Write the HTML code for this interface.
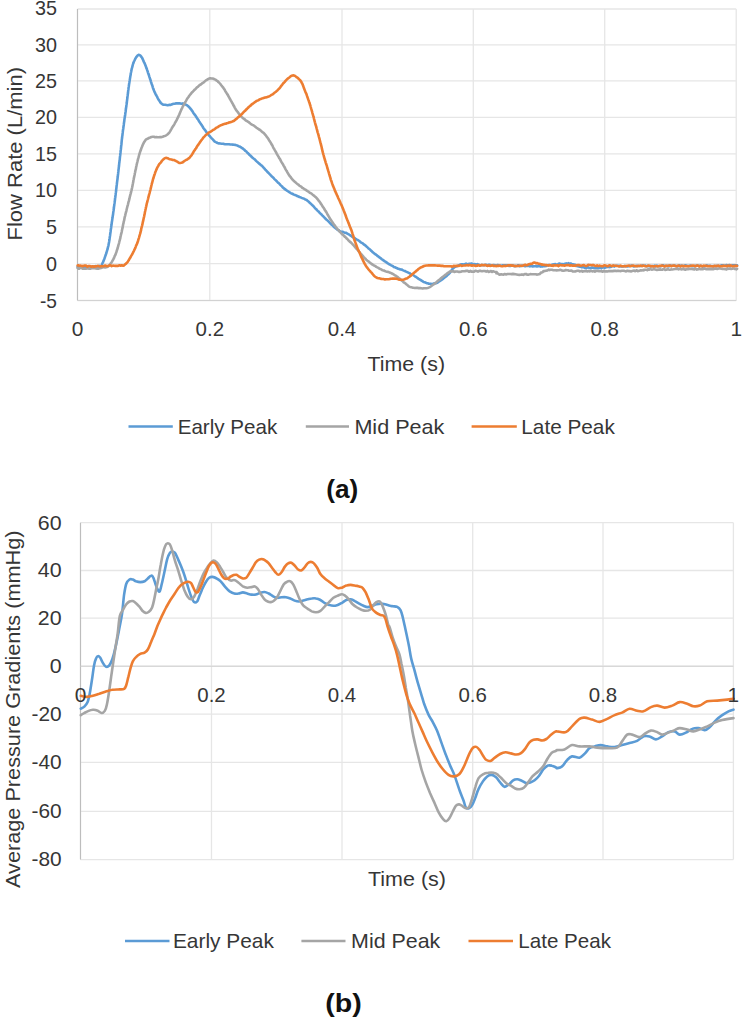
<!DOCTYPE html>
<html><head><meta charset="utf-8"><title>Charts</title>
<style>html,body{margin:0;padding:0;background:#fff}body{width:743px;height:1020px;overflow:hidden;font-family:"Liberation Sans",sans-serif}</style>
</head><body>
<svg width="743" height="1020" viewBox="0 0 743 1020" style="display:block;font-family:'Liberation Sans',sans-serif">
<rect width="743" height="1020" fill="#fff"/>
<g stroke="#e6e6e6" stroke-width="1.3" fill="none">
<line x1="77.5" y1="9.0" x2="736.2" y2="9.0"/>
<line x1="77.5" y1="44.8" x2="736.2" y2="44.8"/>
<line x1="77.5" y1="80.9" x2="736.2" y2="80.9"/>
<line x1="77.5" y1="117.3" x2="736.2" y2="117.3"/>
<line x1="77.5" y1="153.8" x2="736.2" y2="153.8"/>
<line x1="77.5" y1="190.4" x2="736.2" y2="190.4"/>
<line x1="77.5" y1="226.9" x2="736.2" y2="226.9"/>
<line x1="77.5" y1="263.6" x2="736.2" y2="263.6"/>
<line x1="77.5" y1="300.5" x2="736.2" y2="300.5"/>
<line x1="77.5" y1="9.0" x2="77.5" y2="300.5"/>
<line x1="209.8" y1="9.0" x2="209.8" y2="300.5"/>
<line x1="342.0" y1="9.0" x2="342.0" y2="300.5"/>
<line x1="473.3" y1="9.0" x2="473.3" y2="300.5"/>
<line x1="604.7" y1="9.0" x2="604.7" y2="300.5"/>
<line x1="736.2" y1="9.0" x2="736.2" y2="300.5"/>
</g>
<g stroke-width="1.1" fill="none"><line stroke="#bdbdbd" x1="77.5" y1="9.0" x2="77.5" y2="300.5"/><line stroke="#d2d2d2" x1="77.5" y1="300.5" x2="736.2" y2="300.5"/></g>
<g stroke="#e6e6e6" stroke-width="1.3" fill="none">
<line x1="80.5" y1="522.7" x2="733.4" y2="522.7"/>
<line x1="80.5" y1="570.5" x2="733.4" y2="570.5"/>
<line x1="80.5" y1="618.1" x2="733.4" y2="618.1"/>
<line x1="80.5" y1="666.2" x2="733.4" y2="666.2"/>
<line x1="80.5" y1="714.2" x2="733.4" y2="714.2"/>
<line x1="80.5" y1="762.4" x2="733.4" y2="762.4"/>
<line x1="80.5" y1="811.3" x2="733.4" y2="811.3"/>
<line x1="80.5" y1="859.6" x2="733.4" y2="859.6"/>
<line x1="80.5" y1="522.7" x2="80.5" y2="859.6"/>
<line x1="211.5" y1="522.7" x2="211.5" y2="859.6"/>
<line x1="342.0" y1="522.7" x2="342.0" y2="859.6"/>
<line x1="472.7" y1="522.7" x2="472.7" y2="859.6"/>
<line x1="603.0" y1="522.7" x2="603.0" y2="859.6"/>
<line x1="733.4" y1="522.7" x2="733.4" y2="859.6"/>
</g>
<g stroke-width="1.1" fill="none"><line stroke="#bdbdbd" x1="80.5" y1="522.7" x2="80.5" y2="859.6"/><line stroke="#d2d2d2" x1="80.5" y1="666.2" x2="733.4" y2="666.2"/></g>
<g fill="none" stroke-width="2.6" stroke-linejoin="round" stroke-linecap="round">
<path stroke="#5b9bd5" d="M77.6 266.8L78.4 266.4L79.3 267.2L80.5 267.1L81.8 266.5L83.2 266.8L84.7 266.8L86.2 267.0L87.6 267.1L88.9 266.4L90.1 266.3L91.5 267.1L93.0 266.6L94.4 266.9L95.7 266.0L97.0 266.4L98.2 266.6L99.3 265.9L100.1 266.5L101.5 265.6L102.0 264.5L102.6 262.9L103.0 262.2L103.4 261.4L103.8 260.2L104.3 259.0L104.7 257.8L105.2 256.4L105.6 255.3L106.0 254.1L106.4 253.0L106.7 251.8L107.0 250.8L107.3 249.9L107.6 249.0L107.8 247.9L108.1 246.7L108.4 245.8L108.6 244.5L108.9 243.0L109.1 241.9L109.2 241.2L109.4 240.1L109.6 238.7L109.7 237.7L109.9 236.6L110.1 235.4L110.2 234.2L110.4 232.8L110.6 231.7L110.7 230.4L110.9 229.0L111.1 227.9L111.2 226.8L111.4 225.6L111.6 224.3L111.7 223.2L111.9 221.8L112.1 220.8L112.2 219.8L112.4 218.6L112.6 217.3L112.7 216.3L112.9 215.2L113.1 214.0L113.2 212.8L113.4 211.6L113.6 210.4L113.7 209.3L113.9 208.0L114.0 206.8L114.2 205.8L114.3 204.6L114.5 203.5L114.6 202.7L114.7 201.7L114.9 200.5L115.0 199.4L115.1 198.2L115.3 197.2L115.4 196.2L115.6 194.9L115.7 193.6L115.9 192.4L116.1 190.8L116.2 189.4L116.4 188.1L116.5 187.0L116.6 185.9L116.8 184.7L116.9 183.7L117.0 182.7L117.2 181.2L117.3 180.3L117.5 179.1L117.6 177.8L117.8 176.5L117.9 175.3L118.1 173.9L118.2 172.6L118.4 171.2L118.5 169.8L118.7 168.8L118.8 167.4L119.0 166.0L119.1 164.8L119.2 163.6L119.4 162.3L119.5 161.1L119.7 160.0L119.8 158.8L119.9 157.7L120.0 156.6L120.2 155.4L120.3 154.1L120.5 152.7L120.6 151.5L120.7 150.4L120.9 149.2L121.0 148.0L121.1 146.9L121.2 145.6L121.4 144.7L121.5 143.5L121.6 142.2L121.7 141.1L121.8 140.0L121.9 139.2L122.1 137.8L122.2 136.6L122.4 135.6L122.5 134.3L122.7 132.9L122.8 131.8L122.9 130.8L123.1 129.5L123.3 128.4L123.4 127.3L123.6 126.0L123.8 124.7L123.9 123.5L124.1 122.1L124.3 121.0L124.4 119.7L124.6 118.4L124.8 117.1L125.0 116.1L125.2 114.7L125.3 113.4L125.5 112.3L125.7 111.2L125.8 109.7L126.0 108.6L126.1 107.5L126.3 106.6L126.4 105.4L126.6 104.2L126.8 102.8L126.9 101.5L127.1 100.1L127.2 99.1L127.4 97.8L127.5 96.5L127.7 95.2L127.8 94.2L128.0 93.0L128.1 91.9L128.2 90.7L128.4 89.7L128.5 88.5L128.6 87.5L128.8 86.7L128.9 85.6L129.1 84.1L129.3 83.0L129.5 81.5L129.7 80.4L129.9 79.1L130.1 77.8L130.3 76.6L130.5 75.4L130.7 74.6L130.8 73.2L131.0 72.5L131.2 71.6L131.4 70.5L131.7 68.9L132.0 67.9L132.3 66.8L132.6 65.6L132.9 64.5L133.2 63.5L133.6 62.6L133.9 61.6L134.5 60.5L135.1 59.2L135.8 57.9L136.5 56.8L137.1 56.1L137.7 55.4L139.0 54.8L140.2 55.4L140.8 56.1L141.4 56.9L142.0 57.6L142.7 59.1L143.1 60.0L143.5 61.1L144.0 62.1L144.5 63.0L145.0 64.2L145.5 65.5L146.0 66.8L146.4 68.1L146.8 68.9L147.2 70.2L147.6 71.2L147.9 72.3L148.3 73.6L148.7 74.5L149.1 75.8L149.4 76.8L149.8 78.0L150.2 79.4L150.6 80.3L150.9 81.6L151.3 82.7L151.7 84.0L152.1 85.0L152.5 86.2L152.8 87.3L153.2 88.6L153.6 89.5L154.0 90.6L154.5 91.9L155.0 92.8L155.6 94.1L156.1 95.0L156.6 95.9L157.2 96.9L157.7 98.1L158.3 99.2L159.0 100.2L159.6 101.1L160.2 102.1L160.8 102.9L161.5 103.5L162.7 104.4L163.9 104.7L165.2 104.8L166.4 105.0L167.6 105.2L168.9 104.9L170.2 104.9L171.5 104.5L172.7 104.0L174.0 103.8L175.2 103.6L176.5 103.2L177.7 103.4L179.0 103.3L180.2 103.4L181.5 103.7L182.7 103.4L184.0 103.7L185.2 104.4L186.2 104.8L187.2 105.4L188.2 106.3L189.3 107.3L190.3 108.6L191.0 109.2L191.7 110.4L192.4 111.2L193.1 112.5L193.8 113.5L194.5 114.4L195.3 115.4L195.9 116.4L196.5 117.2L197.1 118.3L197.8 119.1L198.4 120.0L199.0 121.3L199.6 122.0L200.3 123.1L200.9 124.0L201.5 124.9L202.1 125.7L202.8 127.0L203.4 128.0L204.0 128.9L204.6 129.5L205.3 130.4L206.0 131.5L206.7 132.6L207.4 133.4L208.1 134.3L208.8 135.2L209.6 135.9L210.3 136.8L211.1 137.7L211.9 138.6L212.8 139.4L213.6 140.3L214.5 141.3L215.3 141.8L216.5 142.5L217.6 143.0L218.9 143.4L220.3 143.5L221.4 143.7L222.6 143.8L223.9 143.9L225.2 144.2L226.5 144.3L227.8 144.2L229.1 144.3L230.3 144.5L231.6 144.5L232.8 144.6L234.1 144.7L235.3 144.9L236.4 145.3L237.5 145.6L238.5 146.2L239.6 146.5L240.7 147.1L241.7 147.9L242.8 148.5L243.7 149.3L244.5 149.9L245.3 150.8L246.2 151.3L247.0 152.3L247.8 153.2L248.7 153.8L249.5 154.9L250.3 155.5L251.3 156.5L252.3 157.5L253.2 158.3L254.2 159.0L255.2 159.8L256.1 160.8L257.0 161.7L257.8 162.3L258.9 163.4L259.9 164.1L260.9 165.2L261.8 165.7L262.7 166.6L263.6 167.7L264.5 168.6L265.3 169.6L266.2 170.5L267.0 171.4L267.8 172.3L268.6 173.0L269.4 173.9L270.3 174.7L271.1 175.7L271.9 176.5L272.8 177.2L273.6 177.9L274.4 179.1L275.3 179.9L276.1 180.6L277.0 181.5L277.8 182.4L278.6 183.1L279.5 183.9L280.3 184.8L281.1 185.6L282.0 186.4L282.8 187.4L283.6 188.1L284.6 189.0L285.5 189.5L286.5 190.4L287.5 191.0L288.6 191.7L289.6 192.3L290.6 193.1L291.7 193.5L292.8 194.0L293.9 194.6L295.0 195.0L296.1 195.4L297.2 196.1L298.4 196.5L299.5 197.0L300.6 197.4L301.7 197.9L302.7 198.3L303.7 198.5L304.8 199.2L305.7 199.6L306.6 200.0L307.5 200.8L308.7 201.7L309.4 202.5L310.2 203.2L311.0 203.8L311.8 204.8L312.7 205.5L313.6 206.4L314.5 207.5L315.3 208.5L316.2 209.1L317.0 210.1L317.8 211.0L318.7 211.6L319.5 212.6L320.3 213.5L321.2 214.2L322.0 215.1L322.8 216.0L323.7 216.7L324.5 217.7L325.3 218.5L326.2 219.4L327.0 220.1L327.9 220.9L328.7 221.7L329.5 222.5L330.4 223.5L331.2 224.3L332.1 224.9L333.1 226.0L334.0 226.9L334.9 227.6L335.9 228.5L336.8 229.1L337.8 230.0L338.7 230.3L339.8 231.2L340.8 231.5L341.9 231.8L343.0 231.9L344.1 232.4L345.1 232.7L346.2 232.9L347.3 233.6L348.3 234.2L349.3 234.7L350.3 235.4L351.4 236.0L352.5 236.9L353.7 237.7L354.6 238.0L355.6 238.8L356.5 239.3L357.5 239.8L358.6 240.5L359.6 241.2L360.7 242.2L361.7 242.9L362.7 243.3L363.7 244.3L364.6 244.9L365.6 245.6L366.5 246.5L367.4 247.2L368.3 248.3L369.2 248.8L370.1 249.7L371.0 250.6L371.9 251.3L372.8 252.3L373.7 253.0L374.7 253.9L375.8 254.5L376.8 255.3L377.8 256.2L378.8 256.8L379.8 257.7L380.8 258.3L381.8 259.2L382.8 259.9L383.8 260.6L384.8 261.4L385.8 261.9L386.8 262.6L387.8 263.4L388.8 264.0L389.8 264.5L390.8 265.1L391.8 265.6L392.8 266.1L393.8 266.9L394.9 267.2L396.0 267.8L397.1 268.2L398.2 268.7L399.3 269.0L400.5 269.5L401.6 269.5L402.7 270.1L403.8 270.6L404.9 271.0L406.1 271.6L407.2 272.1L408.4 272.7L409.5 273.1L410.6 273.8L411.7 274.4L412.8 274.9L413.8 275.5L414.9 276.3L415.9 276.9L416.8 277.5L417.7 278.2L418.6 278.8L419.5 279.3L420.4 279.8L421.3 280.5L422.4 281.1L423.5 281.8L424.5 282.3L425.6 282.6L426.7 283.2L427.7 283.3L428.8 283.7L430.1 283.7L431.3 283.9L432.6 284.0L433.8 283.6L435.1 283.3L436.3 283.1L437.3 282.7L438.3 282.1L439.2 281.3L440.2 280.8L441.2 280.1L442.1 279.4L443.0 278.8L443.8 278.1L444.9 277.3L446.0 276.5L446.9 275.7L447.9 274.7L448.8 274.0L449.6 273.1L450.4 272.2L451.0 271.2L451.6 270.2L452.3 269.3L452.9 268.5L453.6 267.9L454.6 267.1L455.6 266.6L456.6 266.2L457.6 265.9L458.6 265.4L459.8 264.8L460.9 264.4L462.6 264.4L463.6 264.5L464.7 264.1L466.0 263.6L467.4 264.3L468.7 263.9L470.1 263.9L471.4 263.5L472.6 264.0L473.7 264.3L474.7 264.1L475.5 264.2L476.4 264.7L477.5 264.1L478.8 264.8L480.6 265.4L481.4 265.1L482.3 264.9L483.3 265.2L484.3 265.2L485.3 264.8L486.4 264.8L487.5 265.6L488.6 264.9L489.8 264.7L491.1 265.6L492.3 265.3L493.6 265.1L495.0 265.3L496.3 265.6L497.7 265.0L499.1 265.5L500.6 265.6L501.6 265.8L502.7 265.2L503.9 265.6L505.1 265.2L506.3 265.6L507.5 265.2L508.8 265.9L510.2 266.0L511.5 265.4L512.8 265.3L514.2 266.1L515.5 265.9L516.9 266.0L518.2 265.2L519.6 266.1L520.9 265.9L522.1 265.5L523.4 265.7L524.6 266.1L525.7 266.1L526.8 265.5L527.9 266.0L528.8 265.5L529.8 266.4L530.6 265.8L532.7 266.4L534.3 266.3L535.4 266.3L536.2 266.1L537.0 266.5L537.9 266.1L539.0 266.1L540.6 266.6L541.5 266.2L542.6 266.5L543.7 265.8L544.8 266.2L546.1 266.0L547.3 265.4L548.6 265.0L549.9 265.2L551.3 265.1L552.6 264.5L553.9 264.4L555.1 264.1L556.4 264.5L557.5 264.7L558.6 263.8L559.7 263.5L560.6 264.1L562.3 264.1L563.8 264.2L565.1 263.7L566.2 263.4L567.3 263.9L568.3 263.2L569.4 264.0L570.6 263.5L571.7 264.0L572.8 264.4L573.9 264.6L575.0 264.8L576.2 265.3L577.3 266.3L578.4 266.3L579.5 266.7L580.6 266.6L581.8 267.3L583.0 267.1L584.2 267.5L585.4 267.9L586.6 268.1L587.8 267.1L589.2 268.0L590.6 268.1L591.6 267.5L592.8 267.6L594.0 267.9L595.2 268.3L596.5 267.7L597.7 268.2L599.0 268.1L600.2 267.4L601.4 268.3L602.6 267.3L603.6 267.4L604.6 267.9L605.9 267.1L606.7 267.3L607.4 266.8L608.1 266.9L609.0 267.1L610.5 267.0L612.6 265.9L613.4 265.9L614.2 266.7L615.0 265.8L615.9 266.0L616.8 265.8L617.7 265.8L618.6 265.7L619.6 266.3L620.6 266.4L621.7 266.3L622.8 266.5L623.9 266.2L625.1 265.9L626.4 266.2L627.7 266.5L629.1 266.1L630.5 265.7L632.0 265.5L633.6 266.4L635.2 266.0L636.9 265.8L638.7 266.0L640.6 266.0L641.5 265.9L642.4 265.4L643.4 265.7L644.4 265.8L645.4 265.6L646.5 266.3L647.5 265.8L648.6 266.1L649.8 266.1L650.9 266.1L652.1 266.1L653.3 266.2L654.5 265.6L655.7 266.4L657.0 265.5L658.3 266.3L659.5 266.3L660.8 266.3L662.1 265.4L663.4 265.4L664.7 266.2L666.1 265.9L667.4 265.8L668.7 266.4L670.1 265.4L671.4 265.9L672.7 265.8L674.1 265.5L675.4 265.8L676.8 266.1L678.1 266.3L679.4 265.4L680.7 265.9L682.0 265.5L683.3 266.3L684.6 265.5L685.9 265.4L687.1 265.8L688.4 266.2L689.6 265.7L690.8 265.5L692.0 266.2L693.1 266.3L694.3 266.3L695.4 265.7L696.5 265.8L697.6 265.6L698.6 266.0L699.6 265.7L700.6 265.7L702.2 266.2L703.8 266.4L705.4 266.0L706.9 265.4L708.5 266.0L710.0 265.8L711.5 266.3L713.0 266.0L714.4 266.1L715.9 266.0L717.3 265.8L718.6 266.1L720.0 266.1L721.3 265.4L722.6 265.3L723.9 265.5L725.1 265.6L726.3 265.1L727.4 265.4L728.5 265.6L729.6 265.0L730.6 265.9L731.6 265.7L732.5 265.3L733.4 265.2L734.2 265.3L735.0 265.2L735.8 265.7L736.5 265.4L737.1 265.4"/>
<path stroke="#a5a5a5" d="M77.6 268.0L78.3 268.6L79.2 268.6L80.3 267.8L81.5 267.9L82.9 268.8L84.3 268.8L85.9 268.7L87.6 268.3L88.6 268.6L89.7 268.6L90.8 268.6L92.1 268.1L93.4 268.3L94.7 268.2L96.0 268.5L97.4 268.8L98.7 268.7L99.9 268.1L101.2 267.9L102.3 267.6L103.4 267.3L104.3 267.1L105.1 267.5L107.0 267.0L108.1 266.5L108.8 266.0L109.4 265.2L110.1 264.3L110.8 263.4L111.5 262.4L112.1 261.5L112.7 260.4L113.3 259.3L113.9 258.2L114.3 257.2L114.7 256.0L115.2 255.3L115.6 254.2L116.0 253.1L116.4 252.0L116.8 250.7L117.2 249.5L117.7 248.0L117.9 247.2L118.2 246.2L118.5 244.8L118.8 243.9L119.1 242.8L119.4 241.5L119.7 240.4L120.0 239.2L120.3 238.1L120.5 236.7L120.8 235.6L121.1 234.2L121.4 233.1L121.7 232.0L121.9 230.8L122.1 229.8L122.3 228.8L122.6 227.7L122.8 226.5L123.0 225.3L123.2 224.2L123.5 223.2L123.7 221.8L124.0 220.9L124.3 219.4L124.5 218.3L124.8 216.8L125.2 215.6L125.4 214.5L125.7 213.3L126.0 212.2L126.3 211.1L126.6 209.8L126.9 208.5L127.2 207.2L127.5 206.0L127.9 204.8L128.2 203.4L128.5 201.9L128.9 200.9L129.2 199.6L129.5 198.4L129.8 196.9L130.1 195.9L130.4 194.5L130.7 193.6L131.0 192.4L131.2 191.4L131.4 190.8L131.8 188.9L132.1 187.7L132.3 186.6L132.6 185.3L132.7 184.3L132.9 183.6L133.1 182.5L133.3 181.6L133.4 180.3L133.7 179.3L133.9 178.0L134.1 177.1L134.4 175.8L134.6 175.0L134.8 173.5L135.1 172.5L135.3 171.0L135.6 169.9L135.9 168.8L136.1 167.3L136.4 166.1L136.6 165.1L136.9 163.8L137.2 162.5L137.4 161.8L137.7 160.4L138.0 159.1L138.4 157.9L138.7 156.7L139.0 155.5L139.4 154.1L139.7 153.1L140.1 151.9L140.4 151.0L140.8 150.1L141.1 149.1L141.4 148.2L142.0 146.8L142.5 145.5L143.0 144.3L143.6 143.1L144.1 142.1L144.7 141.4L145.2 140.5L146.1 139.4L147.1 138.9L148.0 138.6L148.9 137.9L150.2 137.5L151.4 137.0L152.7 136.8L153.9 136.7L155.1 137.2L156.4 137.1L157.7 137.3L159.0 137.3L160.2 137.1L161.5 137.1L162.7 136.7L163.7 136.3L164.7 136.0L165.7 135.6L166.7 135.0L167.7 134.3L168.3 133.6L169.0 133.0L169.6 132.1L170.2 131.1L170.9 129.8L171.5 128.8L172.1 127.7L172.7 126.8L173.4 125.8L174.0 124.8L174.6 123.8L175.2 122.5L175.9 121.5L176.5 120.4L177.1 119.1L177.7 117.9L178.2 116.9L178.7 115.7L179.2 114.8L179.7 113.5L180.2 112.2L180.7 111.1L181.2 109.9L181.7 108.8L182.2 107.8L182.7 106.7L183.4 105.5L184.0 104.4L184.6 103.1L185.2 102.2L185.9 101.1L186.5 100.0L187.1 98.9L187.7 98.0L188.5 97.0L189.2 95.8L189.9 95.0L190.6 94.2L191.3 93.2L192.0 92.4L192.8 91.8L193.6 90.8L194.4 89.9L195.3 89.2L196.1 88.3L196.9 87.4L197.8 86.9L198.8 85.8L199.8 85.0L200.8 84.5L201.8 83.6L202.8 82.9L203.8 82.3L204.8 81.4L205.9 80.3L206.9 79.8L207.8 79.2L209.1 78.6L210.2 78.3L211.5 78.5L212.7 78.5L214.0 79.0L215.3 79.6L216.5 80.6L217.4 80.9L218.2 81.9L219.0 82.5L219.9 83.5L220.7 84.4L221.5 85.5L222.2 86.4L222.8 87.1L223.4 87.9L224.0 88.9L224.7 89.8L225.3 91.1L225.9 92.0L226.6 93.1L227.2 94.1L227.8 94.9L228.4 96.2L229.1 97.4L229.7 98.5L230.3 99.5L230.9 100.6L231.6 101.7L232.2 103.0L232.8 103.9L233.4 105.2L234.1 106.3L234.7 107.6L235.3 108.6L235.9 109.7L236.6 110.6L237.3 111.5L238.0 112.4L238.6 113.4L239.3 114.2L240.0 115.1L240.8 116.0L241.6 116.9L242.4 117.6L243.2 118.4L244.1 118.9L245.0 119.6L245.9 120.6L246.9 120.9L247.8 121.7L248.7 122.2L249.6 122.8L250.5 123.7L251.5 124.4L252.4 124.9L253.4 125.3L254.4 126.0L255.3 126.7L256.2 127.5L257.2 128.2L258.2 128.8L259.1 129.5L260.1 130.0L261.1 130.9L262.0 131.8L262.8 132.4L263.6 132.9L264.5 133.9L265.3 134.8L266.0 135.5L266.6 136.6L267.3 137.3L267.9 138.3L268.6 139.3L269.2 140.5L269.9 141.4L270.5 142.4L271.1 143.4L271.7 144.6L272.4 145.6L273.0 147.0L273.6 148.2L274.2 149.0L274.9 150.3L275.5 151.3L276.1 152.4L276.7 153.6L277.4 154.8L278.0 155.8L278.6 156.8L279.2 158.1L279.9 158.9L280.5 160.2L281.1 161.3L281.7 162.4L282.4 163.5L283.0 164.4L283.6 165.6L284.3 166.7L284.9 167.9L285.5 169.1L286.1 170.2L286.8 171.1L287.4 172.3L288.0 173.4L288.6 174.5L289.3 175.4L290.0 176.4L290.6 177.0L291.3 178.2L292.0 179.0L292.8 179.8L293.6 180.7L294.5 181.5L295.3 182.1L296.3 183.1L297.2 183.9L298.2 184.5L299.2 185.5L300.2 186.2L301.2 186.7L302.1 187.7L303.0 188.1L304.0 188.8L304.9 189.4L305.8 189.9L306.8 190.6L307.7 191.2L308.7 191.8L309.6 192.7L310.5 193.0L311.5 193.6L312.4 194.4L313.4 195.2L314.3 195.9L315.2 196.8L316.2 197.6L316.9 198.4L317.5 199.1L318.2 200.0L318.9 201.0L319.6 201.7L320.3 202.7L320.9 203.9L321.6 204.7L322.3 206.0L323.0 207.0L323.7 207.9L324.3 209.0L324.9 210.0L325.6 211.1L326.2 211.9L326.8 213.0L327.4 214.2L328.1 215.3L328.7 216.3L329.3 217.3L329.9 218.5L330.6 219.7L331.2 220.4L331.9 221.6L332.7 222.6L333.4 223.7L334.2 224.9L334.9 225.7L335.7 226.8L336.4 227.7L337.2 228.7L337.9 229.7L338.7 230.3L339.5 231.5L340.4 232.2L341.2 233.2L342.0 234.1L342.9 234.8L343.7 235.5L344.5 236.5L345.4 237.0L346.2 238.0L347.0 238.8L347.9 239.6L348.7 240.6L349.5 241.4L350.4 242.1L351.2 242.8L352.1 243.7L352.9 244.6L353.7 245.4L354.5 246.3L355.2 247.4L356.0 247.9L356.7 249.1L357.5 249.8L358.2 250.7L359.0 251.6L359.7 252.4L360.5 253.4L361.2 254.1L362.1 255.1L362.9 256.0L363.7 257.1L364.6 258.0L365.4 258.7L366.2 259.6L367.1 260.5L367.9 261.0L368.7 261.6L369.7 262.4L370.6 263.1L371.6 264.0L372.5 264.5L373.4 265.1L374.4 265.8L375.3 266.1L376.3 266.9L377.3 267.4L378.4 267.9L379.5 268.7L380.5 269.0L381.6 269.7L382.7 270.2L383.8 270.5L384.8 271.0L385.9 271.4L387.0 271.7L388.1 271.9L389.1 272.3L390.2 272.7L391.3 273.1L392.2 273.7L393.1 274.0L394.1 274.7L395.0 275.4L396.0 275.9L396.9 276.6L397.8 277.2L398.8 278.2L399.7 278.7L400.7 279.6L401.7 280.6L402.7 281.2L403.7 282.3L404.6 282.8L405.5 283.5L406.3 284.2L407.4 285.1L408.4 286.0L409.2 286.6L410.2 287.0L411.3 287.3L412.4 287.6L413.6 287.7L414.8 288.0L416.1 287.9L417.5 287.9L418.8 288.1L420.0 288.0L421.3 288.2L422.6 288.5L423.9 288.2L425.2 288.2L426.4 288.2L427.6 288.0L428.7 287.6L429.8 287.1L430.8 286.5L431.7 285.8L432.7 285.0L433.8 284.3L434.7 283.6L435.6 282.9L436.5 282.2L437.5 281.2L438.4 280.4L439.4 279.8L440.4 278.8L441.3 278.1L442.2 277.2L443.2 276.5L444.2 275.9L445.2 274.9L446.2 274.3L447.1 273.5L448.0 272.7L448.9 272.4L449.6 271.7L450.8 271.2L451.5 271.4L453.6 271.3L454.4 271.9L455.3 271.6L456.3 271.5L457.3 271.5L458.4 271.9L459.6 271.9L460.9 271.7L462.1 271.3L463.5 271.2L464.9 271.3L466.3 270.8L467.7 270.9L469.1 271.8L470.6 270.9L471.7 271.8L472.8 271.5L474.0 271.8L475.3 270.8L476.6 271.1L477.9 271.6L479.3 270.8L480.7 270.9L482.1 271.2L483.5 271.0L484.8 271.0L486.2 271.6L487.5 270.9L488.7 271.9L489.9 271.6L491.0 271.0L492.1 272.0L493.0 271.3L493.9 271.6L494.6 271.8L496.6 272.0L496.3 273.3L497.6 273.5L498.4 273.8L499.2 274.6L500.2 274.6L501.2 274.3L502.3 274.5L503.5 274.7L504.8 274.0L506.1 274.4L507.4 274.0L508.7 274.0L510.1 274.0L511.5 274.1L512.9 273.9L514.3 274.1L515.6 274.3L516.7 274.5L518.0 274.8L519.2 274.9L520.6 274.7L521.9 274.4L523.3 274.9L524.7 274.1L526.1 274.0L527.5 274.8L528.8 274.6L530.2 274.1L531.5 274.3L532.7 274.2L533.8 274.3L534.9 274.3L535.9 274.2L536.8 274.6L537.6 274.5L539.8 273.9L540.6 273.3L540.9 272.5L541.6 272.5L542.6 272.3L543.5 271.0L544.6 271.1L545.9 270.7L547.6 270.4L548.5 269.6L549.5 270.1L550.6 269.7L551.7 269.7L552.9 270.1L554.2 270.2L555.4 270.2L556.7 270.4L558.0 270.3L559.3 270.1L560.6 269.7L561.7 270.5L562.7 270.6L563.7 270.7L564.7 270.5L565.8 270.0L566.8 270.2L567.9 270.2L569.0 270.8L570.2 270.8L571.4 270.5L572.7 271.4L574.1 271.5L575.6 271.4L576.6 271.0L577.5 270.8L578.5 270.7L579.6 271.4L580.6 271.3L581.7 270.9L582.7 271.6L583.9 271.2L585.0 271.1L586.1 271.1L587.3 271.4L588.5 271.1L589.8 271.4L591.0 270.8L592.3 271.4L593.6 271.0L594.9 271.7L596.3 270.9L597.7 271.0L599.1 271.2L600.6 271.1L601.6 271.2L602.7 271.7L603.8 270.9L605.0 271.5L606.2 271.4L607.4 271.5L608.7 271.1L610.0 271.1L611.3 271.0L612.7 271.1L614.0 270.9L615.4 270.8L616.7 271.1L618.1 270.7L619.5 271.0L620.8 271.1L622.2 270.8L623.5 270.7L624.8 271.1L626.1 271.4L627.4 270.7L628.6 271.1L629.8 271.1L631.0 271.4L632.1 271.1L633.1 270.7L634.2 270.6L635.1 271.2L636.0 270.6L636.8 270.3L637.6 271.2L640.2 270.4L641.8 270.4L642.7 270.2L643.2 270.0L643.6 270.4L644.3 269.8L645.6 269.8L646.5 269.8L647.3 270.2L648.1 269.2L648.9 269.8L649.7 269.3L650.6 269.2L651.6 269.7L652.7 269.4L653.9 269.0L655.3 269.6L656.8 269.9L658.6 269.6L660.6 269.4L661.5 269.7L662.4 269.8L663.3 269.0L664.3 269.1L665.3 269.9L666.4 269.8L667.5 269.0L668.6 269.5L669.8 269.7L671.0 269.4L672.2 269.5L673.5 269.3L674.7 269.0L676.0 268.9L677.3 268.8L678.6 269.4L679.9 268.8L681.2 269.4L682.6 269.1L683.9 269.1L685.3 269.7L686.6 269.1L687.9 269.2L689.3 269.0L690.6 268.9L691.9 268.9L693.2 269.2L694.5 269.5L695.8 268.7L697.0 269.6L698.2 269.3L699.4 268.6L700.6 269.3L701.9 269.0L703.2 269.1L704.6 268.6L705.9 269.1L707.3 269.1L708.7 269.3L710.1 269.1L711.5 269.2L713.0 269.3L714.4 268.7L715.8 268.5L717.2 268.9L718.6 268.5L720.0 268.5L721.4 268.7L722.7 269.0L724.0 269.0L725.3 269.1L726.5 269.4L727.8 268.4L728.9 268.9L730.1 268.4L731.2 269.0L732.2 268.8L733.2 268.4L734.1 268.6L734.9 269.0L735.7 268.8L736.5 269.3L737.1 268.8"/>
<path stroke="#ed7d31" d="M77.6 265.5L78.3 265.3L79.3 265.7L80.4 265.6L81.7 265.9L83.1 266.1L84.5 265.5L86.0 265.6L87.4 266.6L88.8 266.0L90.1 266.0L91.4 266.8L92.6 266.3L93.9 266.7L95.1 266.2L96.4 266.4L97.6 265.8L98.9 266.3L100.1 266.5L101.4 266.1L102.6 266.3L103.9 266.2L105.2 265.5L106.5 266.2L107.8 265.9L109.1 265.6L110.4 265.2L111.7 266.1L112.9 265.6L114.1 265.8L115.2 265.9L116.6 265.7L118.1 265.9L119.4 265.3L120.7 265.8L121.9 265.3L123.0 265.7L123.9 265.4L125.2 264.3L126.1 263.6L126.8 262.8L127.7 261.9L128.3 260.9L128.9 260.0L129.5 258.8L130.2 257.8L130.8 256.6L131.4 255.5L132.0 254.6L132.5 253.6L133.0 252.7L133.6 251.5L134.1 250.5L134.6 249.3L135.2 248.2L135.6 247.1L136.0 245.9L136.4 245.2L136.8 244.2L137.3 243.1L137.7 241.8L138.1 240.7L138.5 239.2L138.9 238.1L139.2 237.0L139.5 235.9L139.8 234.8L140.1 233.9L140.4 232.9L140.7 231.4L141.0 230.5L141.2 229.1L141.5 227.8L141.8 226.6L142.1 225.6L142.4 224.4L142.7 222.8L142.9 221.9L143.2 220.6L143.4 219.7L143.7 218.3L143.9 217.4L144.2 216.2L144.4 214.8L144.7 213.8L144.9 212.3L145.2 211.0L145.4 210.0L145.7 208.7L145.9 207.6L146.2 206.5L146.4 205.5L146.7 204.1L147.0 202.8L147.3 201.9L147.6 200.5L147.9 199.5L148.2 198.3L148.5 196.9L148.8 195.8L149.1 194.7L149.4 193.7L149.7 192.6L149.9 191.6L150.2 190.7L150.5 189.5L150.8 188.1L151.1 186.9L151.3 186.0L151.6 184.8L151.8 183.8L152.1 183.0L152.4 181.8L152.7 180.6L153.0 179.3L153.4 178.3L153.7 177.2L154.1 175.8L154.5 174.8L154.9 173.6L155.3 172.2L155.7 171.3L156.1 170.3L156.5 169.4L157.1 167.9L157.7 166.9L158.3 165.9L158.9 164.7L159.5 163.8L160.2 163.1L161.0 162.3L161.8 161.0L162.6 160.1L163.5 159.3L164.4 158.5L165.2 158.0L166.5 157.9L167.7 158.3L169.0 158.9L170.2 159.3L171.5 159.6L172.7 160.0L174.0 160.0L175.2 160.6L176.2 161.2L177.2 161.7L178.2 162.3L179.2 163.0L180.2 163.0L181.2 162.8L182.2 162.5L183.2 162.0L184.2 161.1L185.2 160.5L186.2 159.9L187.2 159.5L188.2 158.6L189.3 158.0L190.3 156.7L190.9 156.0L191.5 155.3L192.1 154.4L192.8 153.3L193.4 152.2L194.0 151.1L194.6 150.3L195.3 149.2L195.9 148.5L196.5 147.5L197.1 146.3L197.8 145.4L198.4 144.6L199.0 143.6L199.6 142.8L200.3 141.7L201.0 140.7L201.7 139.8L202.4 139.0L203.1 137.9L203.8 137.1L204.6 136.3L205.3 135.5L206.3 134.6L207.3 134.0L208.3 133.0L209.3 132.3L210.3 131.9L211.3 131.2L212.3 130.6L213.3 129.8L214.3 129.3L215.3 128.7L216.2 127.8L217.2 127.4L218.1 126.8L219.1 126.2L220.3 125.5L221.2 125.1L222.3 124.7L223.4 124.3L224.5 123.9L225.7 123.8L226.8 123.3L227.8 123.1L228.9 122.5L230.0 122.4L231.0 122.0L232.0 121.7L233.0 121.2L234.1 120.7L234.9 120.0L235.8 119.2L236.7 118.8L237.5 117.8L238.4 117.1L239.4 116.4L240.3 115.5L241.1 114.8L241.9 114.1L242.7 113.2L243.6 112.2L244.4 111.3L245.3 110.6L246.1 109.6L247.0 108.9L247.8 108.0L248.8 107.0L249.7 106.3L250.6 105.6L251.5 104.5L252.5 104.0L253.4 103.3L254.4 102.5L255.3 101.9L256.4 101.0L257.4 100.6L258.5 100.2L259.6 99.4L260.7 99.0L261.7 98.6L262.7 98.3L263.6 98.0L265.1 97.5L266.3 97.4L267.4 97.0L268.6 96.6L269.6 96.1L270.6 95.5L271.6 94.8L272.6 94.4L273.6 93.6L274.6 92.6L275.6 92.0L276.6 91.1L277.6 90.2L278.6 89.2L279.3 88.5L280.1 87.6L280.8 86.6L281.5 85.6L282.2 84.7L282.9 83.7L283.6 83.0L284.5 82.1L285.3 81.1L286.2 80.1L287.1 79.3L287.9 78.6L288.6 78.0L289.7 77.2L290.6 76.3L291.5 75.9L292.4 75.5L293.6 75.4L294.8 75.8L296.1 76.7L296.9 77.4L297.8 77.9L298.6 78.8L299.5 79.6L300.4 80.5L301.2 81.7L301.7 82.7L302.2 83.5L302.7 84.6L303.1 85.8L303.6 87.1L304.0 88.3L304.4 89.3L304.9 90.6L305.3 91.6L305.7 92.5L306.2 93.6L306.6 94.6L307.0 95.9L307.4 97.0L307.8 98.2L308.2 99.4L308.7 100.6L309.0 101.6L309.3 102.6L309.7 103.6L310.0 104.8L310.4 105.8L310.7 107.0L311.1 108.4L311.4 109.3L311.7 110.5L312.1 111.7L312.4 113.1L312.7 114.0L313.0 115.1L313.4 116.5L313.7 117.4L314.0 118.8L314.3 119.9L314.6 121.1L314.9 122.3L315.2 123.3L315.5 124.6L315.9 125.5L316.2 126.9L316.5 127.9L316.8 129.1L317.1 130.1L317.4 131.4L317.7 132.6L318.0 133.4L318.4 134.7L318.7 135.9L319.0 137.1L319.3 138.1L319.6 139.2L319.9 140.5L320.2 141.7L320.5 142.9L320.8 143.9L321.1 145.1L321.4 146.3L321.7 147.5L321.9 148.7L322.2 149.8L322.5 151.1L322.8 152.4L323.1 153.4L323.4 154.6L323.7 155.4L324.0 156.9L324.4 158.1L324.7 159.2L325.0 160.3L325.4 161.4L325.7 162.6L326.1 163.8L326.4 164.6L326.8 165.7L327.1 167.0L327.4 168.2L327.8 169.2L328.1 170.4L328.5 171.6L328.8 172.6L329.1 173.8L329.5 175.0L329.8 176.3L330.2 177.3L330.5 178.4L330.8 179.6L331.2 180.8L331.6 181.7L332.0 183.0L332.3 183.9L332.7 185.0L333.0 185.9L333.4 186.8L333.9 187.9L334.4 189.1L334.9 190.6L335.3 191.5L335.8 192.4L336.2 193.4L336.7 194.5L337.2 195.7L337.7 196.6L338.2 198.0L338.7 199.0L339.3 200.2L339.8 201.3L340.3 202.5L340.8 203.6L341.3 204.6L341.8 205.7L342.2 206.8L342.7 208.1L343.2 209.1L343.7 210.5L344.2 211.8L344.6 212.8L345.0 213.9L345.5 215.0L345.9 216.3L346.3 217.4L346.7 218.6L347.1 219.6L347.5 220.4L348.0 221.6L348.4 222.8L348.9 223.9L349.3 225.1L349.8 226.2L350.2 227.2L350.6 228.1L351.0 229.4L351.5 230.4L351.8 231.5L352.2 232.7L352.5 233.6L352.9 234.7L353.2 236.1L353.6 237.1L353.9 238.3L354.3 239.5L354.7 240.8L355.1 241.7L355.5 242.9L355.9 244.1L356.4 245.3L356.8 246.4L357.3 247.7L357.8 249.0L358.3 250.0L358.8 251.2L359.3 252.1L359.8 253.3L360.3 254.5L360.7 255.4L361.3 256.9L361.9 258.1L362.4 259.0L363.0 260.5L363.5 261.4L364.1 262.7L364.6 263.7L365.2 264.5L365.7 265.6L366.5 266.7L367.2 267.7L367.9 268.5L368.6 269.5L369.4 270.4L370.1 271.1L370.7 271.8L371.5 272.6L372.3 273.7L373.0 274.5L373.8 275.5L374.5 276.2L375.3 276.8L376.3 277.4L377.4 278.0L378.5 278.3L379.8 278.4L380.9 278.9L382.2 279.0L383.5 279.0L384.9 279.4L386.3 279.2L387.5 279.2L388.7 279.2L390.0 278.9L391.2 278.7L392.5 278.6L393.8 278.5L395.0 278.6L396.3 278.8L397.6 279.1L398.9 279.6L400.1 279.8L401.3 279.8L402.6 279.8L403.9 279.4L405.1 279.0L406.3 278.6L407.5 278.2L408.4 277.3L409.3 276.9L410.2 276.0L411.1 275.5L412.0 274.5L412.9 273.7L413.8 273.0L414.7 272.3L415.6 271.6L416.5 270.7L417.4 270.1L418.3 269.1L419.2 268.5L420.1 267.9L421.1 267.3L422.0 267.0L423.0 266.5L424.0 266.0L425.1 265.7L426.3 265.5L427.4 265.5L428.5 265.4L429.7 265.4L430.9 265.4L432.2 265.2L433.5 265.4L434.9 265.4L436.3 265.5L437.4 265.6L438.6 265.5L439.8 265.6L441.0 265.9L442.3 265.7L443.5 266.1L444.8 266.2L446.1 266.3L447.3 266.2L448.5 266.3L449.6 266.3L450.9 266.3L452.0 266.7L453.1 266.3L454.2 265.8L455.2 266.3L456.4 265.8L457.6 265.9L459.0 265.9L460.6 265.1L461.5 265.9L462.5 265.7L463.6 265.5L464.7 265.5L465.8 265.4L467.0 265.1L468.2 265.5L469.4 264.9L470.7 265.4L471.9 265.6L473.2 265.4L474.4 265.5L475.7 265.9L477.0 265.8L478.2 265.0L479.4 265.7L480.6 265.5L481.8 264.9L483.0 265.3L484.1 265.1L485.3 265.0L486.5 265.5L487.7 265.9L488.8 265.3L490.0 265.9L491.2 265.8L492.4 265.2L493.5 266.0L494.7 265.7L495.9 266.1L497.1 265.9L498.2 265.9L499.4 265.5L500.6 266.0L501.8 266.2L503.0 266.1L504.3 265.7L505.5 266.1L506.8 265.8L508.1 265.4L509.3 265.4L510.6 265.4L511.8 265.6L513.1 265.5L514.3 265.9L515.5 266.1L516.6 266.0L517.7 265.8L518.7 266.0L519.7 265.6L520.6 265.8L522.4 265.9L523.9 265.3L525.3 264.8L526.6 265.4L527.7 264.9L528.7 264.2L529.7 264.0L530.6 263.9L532.1 263.7L533.2 262.9L534.2 262.5L535.3 262.7L536.3 263.4L537.2 263.0L538.3 263.7L539.4 263.8L540.6 264.1L541.4 264.2L542.0 264.7L542.6 264.6L543.4 264.7L544.5 264.9L546.2 265.1L548.6 265.6L549.4 265.1L550.2 265.1L551.1 265.6L552.0 265.5L552.9 265.9L553.9 265.1L555.0 265.5L556.1 265.5L557.2 265.1L558.3 266.1L559.5 265.3L560.7 265.1L562.0 265.5L563.2 265.2L564.5 265.7L565.8 265.3L567.1 265.1L568.5 265.0L569.8 265.7L571.1 265.2L572.5 265.7L573.8 265.4L575.2 265.9L576.6 265.2L577.9 265.1L579.3 265.1L580.6 265.7L581.7 265.5L582.8 265.2L583.9 265.0L584.9 265.6L586.0 266.0L587.1 265.6L588.2 264.9L589.3 265.0L590.4 265.0L591.5 265.2L592.6 265.0L593.7 265.1L594.8 265.7L596.0 266.0L597.1 265.3L598.3 266.1L599.4 265.6L600.6 266.0L601.8 266.1L603.0 266.2L604.2 265.2L605.5 265.5L606.8 265.9L608.0 266.3L609.3 265.3L610.7 265.6L612.0 266.2L613.4 265.4L614.8 265.7L616.2 265.7L617.6 266.1L619.1 266.4L620.6 265.5L621.6 266.2L622.6 266.2L623.7 266.3L624.7 266.0L625.8 266.4L626.9 265.8L628.0 265.8L629.1 265.6L630.2 266.3L631.4 265.9L632.5 265.7L633.7 265.6L634.9 266.2L636.0 266.1L637.2 266.2L638.4 265.8L639.7 266.0L640.9 265.6L642.1 266.2L643.3 265.5L644.6 265.9L645.8 266.3L647.1 266.2L648.3 265.5L649.6 265.7L650.8 266.4L652.1 266.1L653.4 266.4L654.6 266.4L655.9 265.9L657.2 266.4L658.4 266.3L659.7 265.8L661.0 265.9L662.2 265.5L663.5 265.9L664.7 266.5L666.0 265.6L667.3 266.1L668.5 265.6L669.7 265.5L671.0 266.2L672.2 265.7L673.4 265.5L674.7 265.6L675.9 266.2L677.1 266.1L678.2 265.5L679.4 265.7L680.6 266.5L681.9 265.7L683.1 266.1L684.4 265.9L685.7 266.3L687.0 266.1L688.4 266.3L689.7 266.0L691.1 265.7L692.5 265.6L693.9 265.5L695.2 266.3L696.6 265.6L698.0 265.5L699.4 266.5L700.8 265.6L702.3 266.4L703.7 265.5L705.1 265.9L706.4 265.7L707.8 266.3L709.2 266.1L710.6 266.1L711.9 266.2L713.3 266.4L714.6 265.8L715.9 266.1L717.2 265.9L718.5 265.5L719.7 266.3L721.0 266.0L722.2 266.3L723.4 265.6L724.5 266.0L725.7 265.9L726.8 266.2L727.8 265.5L728.9 265.7L729.9 265.9L730.8 265.4L731.8 266.0L732.7 266.2L733.5 265.8L734.3 266.1L735.1 266.0L735.8 265.6L736.5 265.7L737.1 265.9"/>
<path stroke="#5b9bd5" d="M80.8 708.7C81.4 708.4 83.2 707.7 84.3 706.6C85.4 705.5 86.6 704.4 87.5 702.3C88.4 700.1 89.0 697.2 89.7 693.7C90.4 690.1 91.1 685.4 91.8 680.7C92.6 676.1 93.3 669.4 94.0 665.7C94.7 661.9 95.4 659.7 96.2 658.1C96.9 656.5 97.6 656.0 98.3 656.0C99.0 656.0 99.7 657.1 100.5 658.1C101.2 659.2 101.7 661.0 102.6 662.4C103.5 663.9 104.8 666.2 105.8 666.7C106.9 667.3 108.0 666.9 109.1 665.7C110.1 664.4 111.2 662.3 112.3 659.2C113.4 656.2 114.5 652.0 115.5 647.4C116.6 642.7 117.7 636.8 118.8 631.2C119.8 625.6 121.1 620.1 122.0 614.0C122.9 607.9 123.4 599.6 124.1 594.6C124.9 589.6 125.4 586.3 126.3 583.8C127.2 581.3 128.5 580.2 129.5 579.5C130.6 578.8 131.7 579.2 132.8 579.5C133.8 579.8 134.7 580.8 136.0 581.3C137.2 581.7 138.9 582.1 140.3 582.1C141.7 582.1 143.3 581.9 144.6 581.3C145.9 580.6 146.8 579.4 147.8 578.5C148.9 577.5 150.2 575.8 151.1 575.7C152.0 575.5 152.5 576.0 153.2 577.4C153.9 578.7 154.7 581.9 155.4 583.8C156.1 585.8 156.8 588.0 157.5 589.2C158.2 590.5 159.0 592.3 159.7 591.4C160.4 590.5 160.9 587.6 161.8 583.8C162.7 580.1 164.2 572.9 165.1 568.8C166.0 564.6 166.5 561.6 167.2 559.1C167.9 556.6 168.6 554.9 169.4 553.7C170.1 552.4 170.6 551.7 171.5 551.5C172.4 551.4 173.7 551.4 174.8 552.6C175.8 553.9 176.9 556.7 178.0 559.1C179.1 561.4 180.1 563.9 181.2 566.6C182.3 569.3 183.4 572.0 184.4 575.2C185.5 578.5 186.6 582.6 187.7 586.0C188.7 589.4 189.8 593.0 190.9 595.7C192.0 598.4 193.1 601.2 194.1 602.1C195.2 603.0 196.5 602.1 197.4 601.1C198.3 600.0 198.6 597.8 199.5 595.7C200.4 593.5 201.7 590.5 202.7 588.1C203.8 585.8 204.9 583.4 206.0 581.7C207.1 580.0 208.1 578.6 209.2 577.8C210.3 577.0 211.2 576.8 212.4 576.9C213.7 577.1 215.3 577.7 216.7 578.5C218.2 579.2 219.6 580.2 221.0 581.7C222.5 583.1 223.9 585.5 225.4 587.1C226.8 588.7 228.2 590.3 229.7 591.4C231.2 592.4 232.8 593.2 234.3 593.5C235.8 593.9 237.2 593.7 238.6 593.5C240.0 593.3 241.5 592.4 242.9 592.4C244.4 592.4 245.8 593.2 247.2 593.5C248.7 593.9 250.1 594.4 251.5 594.6C253.0 594.8 254.4 594.9 255.8 594.6C257.3 594.3 258.7 593.3 260.1 592.9C261.6 592.4 263.0 591.9 264.5 592.0C265.9 592.1 267.3 592.8 268.8 593.5C270.2 594.2 271.6 595.6 273.1 596.3C274.5 597.0 275.9 597.7 277.4 597.8C278.8 598.0 280.2 597.3 281.7 597.2C283.1 597.1 284.6 597.0 286.0 597.2C287.4 597.4 288.9 597.9 290.3 598.5C291.7 599.1 293.2 600.1 294.6 600.6C296.0 601.1 297.5 601.5 298.9 601.5C300.3 601.5 301.8 601.0 303.2 600.6C304.7 600.3 306.1 599.7 307.5 599.3C309.0 599.0 310.4 598.6 311.8 598.5C313.3 598.3 314.7 598.2 316.1 598.5C317.6 598.7 319.0 599.2 320.4 600.0C321.9 600.8 323.3 602.4 324.8 603.2C326.2 604.0 327.6 604.5 329.1 604.9C330.5 605.4 331.9 605.8 333.4 605.8C334.8 605.8 336.2 605.4 337.7 604.9C339.1 604.4 340.5 603.6 342.0 602.8C343.4 602.0 344.8 600.6 346.3 600.0C347.7 599.4 349.2 599.2 350.6 599.3C352.0 599.5 353.5 600.3 354.9 601.1C356.3 601.8 357.8 602.9 359.2 603.6C360.6 604.4 362.1 605.2 363.5 605.8C364.9 606.4 366.4 607.1 367.8 607.1C369.3 607.1 370.7 606.3 372.1 605.8C373.6 605.3 375.0 604.7 376.4 604.3C377.9 603.9 379.3 603.6 380.7 603.6C382.2 603.6 383.5 603.9 385.0 604.3C386.6 604.7 388.7 605.5 390.0 605.8C391.3 606.1 391.7 606.1 392.9 606.3C394.1 606.5 396.0 606.3 397.2 606.9C398.5 607.6 399.6 608.5 400.5 610.1C401.4 611.8 401.9 613.9 402.6 616.6C403.3 619.3 404.0 623.1 404.8 626.3C405.5 629.5 406.2 632.6 406.9 636.0C407.6 639.4 408.4 643.0 409.1 646.8C409.8 650.5 410.3 654.7 411.2 658.6C412.1 662.5 413.4 666.5 414.5 670.4C415.5 674.4 416.6 678.5 417.7 682.3C418.8 686.1 419.8 689.5 420.9 693.1C422.0 696.6 422.9 700.2 424.1 703.8C425.4 707.4 427.0 711.5 428.5 714.6C429.9 717.6 431.3 719.4 432.8 722.1C434.2 724.8 435.6 727.3 437.1 730.7C438.5 734.1 439.9 738.6 441.4 742.6C442.8 746.5 444.2 750.7 445.7 754.4C447.1 758.2 448.6 761.8 450.0 765.2C451.4 768.6 452.7 770.6 454.3 774.9C455.9 779.2 458.2 786.7 459.8 791.0C461.4 795.3 462.6 798.0 463.6 800.7C464.6 803.4 464.8 805.9 465.7 807.2C466.6 808.5 467.8 808.6 468.9 808.3C470.0 807.9 471.1 806.9 472.1 805.1C473.2 803.3 474.3 800.2 475.4 797.5C476.4 794.8 477.3 791.6 478.6 788.9C479.9 786.2 481.5 783.5 482.9 781.4C484.3 779.3 485.8 777.5 487.2 776.4C488.6 775.3 490.1 774.8 491.5 774.9C493.0 775.0 494.4 775.8 495.8 777.1C497.3 778.3 498.7 780.8 500.1 782.4C501.6 784.1 503.0 786.4 504.4 786.8C505.9 787.1 507.3 785.7 508.7 784.6C510.2 783.5 511.6 781.2 513.1 780.3C514.5 779.4 515.9 779.1 517.4 779.2C518.8 779.3 520.2 780.1 521.7 780.7C523.1 781.3 524.5 782.6 526.0 782.9C527.4 783.2 528.8 782.9 530.3 782.4C531.7 782.0 533.2 781.4 534.6 780.3C536.0 779.2 537.5 777.8 538.9 776.0C540.3 774.2 541.8 771.3 543.2 769.5C544.6 767.8 546.1 766.3 547.5 765.7C548.9 765.0 550.4 765.4 551.8 765.7C553.3 765.9 555.3 767.0 556.1 767.4C557.0 767.8 556.0 768.3 557.0 768.2C558.0 768.0 560.3 767.8 562.0 766.4C563.7 765.1 565.3 761.8 567.0 760.2C568.7 758.5 569.9 756.8 572.0 756.4C574.1 756.0 577.4 758.1 579.5 757.7C581.6 757.2 582.9 755.5 584.5 753.9C586.2 752.3 587.9 749.4 589.5 748.1C591.2 746.9 592.7 746.9 594.6 746.4C596.4 745.9 598.7 745.1 600.8 745.1C602.9 745.1 604.8 746.1 607.1 746.4C609.4 746.7 612.1 747.4 614.6 747.1C617.1 746.9 619.6 745.8 622.1 745.1C624.6 744.5 627.1 743.8 629.6 743.1C632.1 742.4 634.8 742.0 637.1 740.9C639.4 739.8 641.3 737.1 643.4 736.4C645.5 735.6 647.5 735.9 649.6 736.4C651.7 736.9 653.8 739.4 655.9 739.4C658.0 739.4 660.1 737.6 662.1 736.4C664.2 735.2 666.3 733.0 668.4 732.1C670.5 731.3 672.8 731.0 674.7 731.4C676.5 731.8 677.8 734.4 679.7 734.6C681.5 734.8 683.8 733.6 685.9 732.6C688.0 731.7 690.1 729.6 692.2 728.9C694.3 728.1 696.4 727.9 698.4 728.1C700.5 728.3 702.8 730.3 704.7 730.1C706.6 730.0 707.8 728.8 709.7 727.1C711.6 725.4 713.9 722.1 716.0 720.1C718.0 718.1 720.1 716.6 722.2 715.1C724.3 713.6 726.6 712.3 728.5 711.3C730.4 710.4 732.7 709.9 733.5 709.6"/>
<path stroke="#a5a5a5" d="M80.8 715.2C81.4 714.8 83.0 713.8 84.3 713.0C85.6 712.3 87.2 711.4 88.6 710.9C90.0 710.3 91.5 709.9 92.9 709.8C94.4 709.7 95.8 709.9 97.2 710.5C98.7 711.0 100.3 713.0 101.5 713.0C102.8 713.1 103.9 712.3 104.8 710.9C105.7 709.5 106.2 707.7 106.9 704.4C107.6 701.2 108.4 696.2 109.1 691.5C109.8 686.8 110.5 681.5 111.2 676.4C111.9 671.4 112.7 666.2 113.4 661.4C114.1 656.5 114.8 652.0 115.5 647.4C116.2 642.7 117.0 638.6 117.7 633.4C118.4 628.2 118.9 620.1 119.8 616.1C120.7 612.2 122.0 611.7 123.1 609.7C124.1 607.7 125.2 605.7 126.3 604.3C127.4 602.9 128.5 602.0 129.5 601.5C130.6 601.0 131.7 600.8 132.8 601.1C133.8 601.4 134.9 602.3 136.0 603.2C137.1 604.1 138.1 605.2 139.2 606.4C140.3 607.7 141.4 609.7 142.4 610.8C143.5 611.8 144.6 612.7 145.7 612.9C146.8 613.1 147.8 612.7 148.9 611.8C150.0 610.9 151.2 609.7 152.1 607.5C153.0 605.4 153.6 602.1 154.3 598.9C155.0 595.7 155.7 591.7 156.4 588.1C157.2 584.6 157.9 581.3 158.6 577.4C159.3 573.4 160.0 568.4 160.8 564.5C161.5 560.5 162.2 556.7 162.9 553.7C163.6 550.6 164.3 547.9 165.1 546.2C165.8 544.4 166.4 543.6 167.2 543.4C168.0 543.1 169.2 543.5 170.0 544.6C170.8 545.8 171.4 547.9 172.2 550.5C173.0 553.0 173.8 556.9 174.8 560.1C175.7 563.4 176.9 566.4 178.0 569.8C179.1 573.2 180.1 577.2 181.2 580.6C182.3 584.0 183.4 587.6 184.4 590.3C185.5 593.0 186.6 595.2 187.7 596.8C188.7 598.3 189.8 599.3 190.9 599.3C192.0 599.3 193.1 598.4 194.1 596.8C195.2 595.1 196.3 591.9 197.4 589.2C198.4 586.5 199.5 583.3 200.6 580.6C201.7 577.9 202.7 575.2 203.8 573.1C204.9 570.9 206.0 569.3 207.1 567.7C208.1 566.1 209.2 564.6 210.3 563.4C211.4 562.2 212.4 560.8 213.5 560.6C214.6 560.4 215.7 561.3 216.7 562.3C217.8 563.3 218.9 565.0 220.0 566.6C221.0 568.2 222.1 570.2 223.2 572.0C224.3 573.8 225.2 575.9 226.4 577.4C227.7 578.8 229.4 580.2 230.7 580.6C232.1 581.0 233.0 579.6 234.3 580.0C235.6 580.3 237.2 581.7 238.6 582.8C240.0 583.8 241.5 585.6 242.9 586.4C244.4 587.2 245.8 587.6 247.2 587.7C248.7 587.8 250.3 587.3 251.5 587.1C252.8 586.9 253.7 586.1 254.8 586.4C255.8 586.8 256.9 587.9 258.0 589.2C259.1 590.6 260.1 592.9 261.2 594.6C262.3 596.3 263.4 598.2 264.5 599.3C265.5 600.5 266.6 601.0 267.7 601.5C268.8 602.0 269.8 602.3 270.9 602.1C272.0 602.0 273.1 601.5 274.1 600.6C275.2 599.7 276.3 598.5 277.4 596.8C278.5 595.0 279.5 592.4 280.6 590.3C281.7 588.2 282.8 585.7 283.8 584.3C284.9 582.8 286.0 582.2 287.1 581.7C288.1 581.2 289.2 580.7 290.3 581.3C291.4 581.8 292.4 583.0 293.5 584.9C294.6 586.8 295.7 589.9 296.8 592.4C297.8 595.0 298.9 597.8 300.0 600.0C301.1 602.1 302.0 603.9 303.2 605.4C304.5 606.8 306.1 607.6 307.5 608.6C309.0 609.6 310.4 610.8 311.8 611.4C313.3 612.0 314.7 612.4 316.1 612.3C317.6 612.2 319.0 611.7 320.4 610.8C321.9 609.8 323.3 607.9 324.8 606.4C326.2 605.0 327.6 603.6 329.1 602.1C330.5 600.7 331.9 598.9 333.4 597.8C334.8 596.8 336.2 596.3 337.7 595.7C339.1 595.1 340.7 594.2 342.0 594.2C343.2 594.2 344.1 594.9 345.2 595.7C346.3 596.5 347.2 597.5 348.4 598.9C349.7 600.3 351.3 602.9 352.7 604.3C354.2 605.7 355.6 606.6 357.1 607.5C358.5 608.4 359.9 609.1 361.4 609.7C362.8 610.2 364.2 610.8 365.7 610.8C367.1 610.8 368.7 610.6 370.0 609.7C371.2 608.8 372.1 606.6 373.2 605.4C374.3 604.1 375.4 602.8 376.4 602.1C377.5 601.5 378.8 601.1 379.7 601.5C380.6 601.9 381.1 602.9 381.8 604.3C382.5 605.7 383.3 607.7 384.0 609.7C384.7 611.7 385.4 613.6 386.1 616.1C386.8 618.6 387.7 622.9 388.3 624.8C388.9 626.6 388.9 625.1 389.7 627.4C390.5 629.6 391.8 634.9 392.9 638.1C394.0 641.4 395.1 644.1 396.2 646.8C397.2 649.4 398.5 651.4 399.4 654.3C400.3 657.2 400.8 660.6 401.5 664.0C402.3 667.4 403.0 670.8 403.7 674.8C404.4 678.7 405.1 683.4 405.8 687.7C406.6 692.0 407.3 695.9 408.0 700.6C408.7 705.3 409.4 710.6 410.1 715.7C410.9 720.7 411.5 726.1 412.3 730.7C413.1 735.4 414.1 739.4 415.1 743.7C416.1 748.0 417.2 752.3 418.3 756.6C419.4 760.9 420.3 765.2 421.5 769.5C422.8 773.8 424.4 778.5 425.8 782.4C427.3 786.4 428.7 789.8 430.1 793.2C431.6 796.6 433.0 799.7 434.5 802.9C435.9 806.1 437.3 809.9 438.8 812.6C440.2 815.3 441.8 817.6 443.1 819.1C444.3 820.5 445.2 821.4 446.3 821.2C447.4 821.0 448.5 819.6 449.5 818.0C450.6 816.4 451.7 813.6 452.8 811.5C453.8 809.5 454.9 806.9 456.0 805.7C457.1 804.5 458.1 804.3 459.2 804.4C460.3 804.5 461.4 805.5 462.4 806.1C463.5 806.8 464.6 808.1 465.7 808.3C466.8 808.5 467.8 808.8 468.9 807.2C470.0 805.6 471.1 802.0 472.1 798.6C473.2 795.2 474.3 790.2 475.4 786.8C476.4 783.3 477.3 780.2 478.6 778.1C479.9 776.1 481.3 775.2 482.9 774.3C484.5 773.4 486.5 773.0 488.3 772.8C490.1 772.5 492.1 772.4 493.7 772.8C495.3 773.1 496.5 773.8 498.0 774.9C499.4 776.0 500.9 777.8 502.3 779.2C503.7 780.7 505.2 782.4 506.6 783.5C508.0 784.6 509.5 784.9 510.9 785.7C512.3 786.5 513.8 787.9 515.2 788.5C516.6 789.1 518.1 789.4 519.5 789.3C521.0 789.2 522.4 789.0 523.8 787.8C525.3 786.7 526.7 784.4 528.1 782.4C529.6 780.5 530.8 778.2 532.4 776.4C534.1 774.6 536.0 773.4 537.8 771.7C539.6 770.0 541.6 768.5 543.2 766.3C544.8 764.1 546.1 761.0 547.5 758.8C548.9 756.5 550.4 754.1 551.8 752.7C553.3 751.4 555.3 751.2 556.1 750.8C557.0 750.4 555.6 750.4 557.0 750.1C558.4 749.9 562.0 750.2 564.5 749.4C567.0 748.6 569.5 745.6 572.0 745.1C574.5 744.6 576.6 746.2 579.5 746.4C582.5 746.6 586.6 746.2 589.5 746.4C592.5 746.6 594.1 747.4 597.1 747.6C600.0 747.9 603.7 748.1 607.1 748.1C610.4 748.1 614.6 748.8 617.1 747.6C619.6 746.5 620.4 743.6 622.1 741.4C623.8 739.2 625.4 735.8 627.1 734.6C628.8 733.5 630.0 734.2 632.1 734.6C634.2 735.0 637.5 737.3 639.6 737.1C641.7 737.0 642.7 735.0 644.6 733.9C646.5 732.8 648.8 730.9 650.9 730.6C653.0 730.3 655.3 731.5 657.1 732.1C659.0 732.8 660.5 734.5 662.1 734.6C663.8 734.8 665.1 733.9 667.1 733.1C669.2 732.4 672.6 731.0 674.7 730.1C676.7 729.3 677.6 728.2 679.7 728.1C681.8 728.0 684.9 729.1 687.2 729.6C689.5 730.2 691.1 731.5 693.4 731.4C695.7 731.2 698.6 729.7 700.9 728.9C703.2 728.0 704.9 727.4 707.2 726.4C709.5 725.3 712.2 723.7 714.7 722.6C717.2 721.6 719.1 720.9 722.2 720.1C725.4 719.4 731.6 718.4 733.5 718.1"/>
<path stroke="#ed7d31" d="M80.8 695.8C81.7 696.0 84.4 696.9 86.5 696.9C88.5 696.9 90.8 696.4 92.9 695.8C95.1 695.3 97.2 694.4 99.4 693.7C101.5 692.9 103.7 692.2 105.8 691.5C108.0 690.9 110.1 690.1 112.3 689.8C114.5 689.4 116.8 689.5 118.8 689.4C120.7 689.2 122.9 689.6 124.1 688.9C125.4 688.2 125.6 687.1 126.3 685.0C127.0 683.0 127.7 679.3 128.5 676.4C129.2 673.6 129.9 670.3 130.6 667.8C131.3 665.3 131.9 663.2 132.8 661.4C133.7 659.6 134.7 658.3 136.0 657.1C137.2 655.8 138.9 654.5 140.3 653.8C141.7 653.1 143.3 653.5 144.6 652.7C145.9 652.0 146.8 651.3 147.8 649.5C148.9 647.7 150.0 644.5 151.1 642.0C152.1 639.5 153.2 637.1 154.3 634.4C155.4 631.7 156.3 628.9 157.5 625.8C158.8 622.8 160.4 619.2 161.8 616.1C163.3 613.1 164.7 610.2 166.1 607.5C167.6 604.8 169.0 602.3 170.4 600.0C171.9 597.7 173.3 595.7 174.8 593.5C176.2 591.4 177.6 588.8 179.1 587.1C180.5 585.4 181.9 584.3 183.4 583.4C184.8 582.5 186.4 581.8 187.7 581.7C188.9 581.6 190.0 581.9 190.9 582.8C191.8 583.7 192.3 585.6 193.1 587.1C193.8 588.5 194.5 590.5 195.2 591.4C195.9 592.3 196.6 592.8 197.4 592.4C198.1 592.1 198.6 591.0 199.5 589.2C200.4 587.4 201.7 584.4 202.7 581.7C203.8 579.0 204.9 575.8 206.0 573.1C207.1 570.4 208.1 567.3 209.2 565.5C210.3 563.7 211.4 562.7 212.4 562.3C213.4 561.9 214.3 562.5 215.2 563.4C216.1 564.3 216.9 565.9 217.8 567.7C218.8 569.5 220.0 572.4 221.0 574.1C222.1 575.9 223.0 577.7 224.3 578.5C225.5 579.2 227.6 578.7 228.6 578.5C229.5 578.2 229.2 577.5 230.0 576.9C230.8 576.4 232.2 575.6 233.2 575.2C234.3 574.9 235.4 574.5 236.5 574.8C237.5 575.1 238.6 576.3 239.7 576.9C240.8 577.6 241.8 578.3 242.9 578.5C244.0 578.6 245.1 578.7 246.2 577.8C247.2 576.9 248.3 574.8 249.4 573.1C250.5 571.4 251.5 569.5 252.6 567.7C253.7 565.9 254.8 563.6 255.8 562.3C256.9 561.0 258.0 560.3 259.1 559.7C260.1 559.2 261.2 558.9 262.3 559.1C263.4 559.2 264.5 559.9 265.5 560.6C266.6 561.3 267.7 562.2 268.8 563.4C269.8 564.6 270.9 566.2 272.0 567.7C273.1 569.1 274.1 570.8 275.2 572.0C276.3 573.2 277.4 574.8 278.5 574.8C279.5 574.8 280.6 573.4 281.7 572.0C282.8 570.6 283.8 568.0 284.9 566.6C286.0 565.2 287.1 564.0 288.1 563.4C289.2 562.7 290.3 562.4 291.4 562.7C292.4 563.1 293.5 564.5 294.6 565.5C295.7 566.6 296.8 568.4 297.8 569.2C298.9 570.0 300.0 570.7 301.1 570.5C302.1 570.2 303.2 568.9 304.3 567.7C305.4 566.5 306.4 564.3 307.5 563.4C308.6 562.4 309.7 561.9 310.8 561.9C311.8 561.9 312.9 562.4 314.0 563.4C315.1 564.3 316.1 565.9 317.2 567.7C318.3 569.5 319.2 572.4 320.4 574.1C321.7 575.9 323.3 577.2 324.8 578.5C326.2 579.7 327.6 580.6 329.1 581.7C330.5 582.8 331.9 583.8 333.4 584.9C334.8 586.0 336.2 587.7 337.7 588.1C339.1 588.6 340.5 588.1 342.0 587.7C343.4 587.3 344.8 586.0 346.3 585.6C347.7 585.1 349.2 584.9 350.6 584.9C352.0 584.9 353.5 585.3 354.9 585.6C356.3 585.8 357.9 586.1 359.2 586.4C360.5 586.8 361.4 586.7 362.4 587.7C363.5 588.7 364.6 590.4 365.7 592.4C366.7 594.5 367.8 597.3 368.9 600.0C370.0 602.7 370.9 606.4 372.1 608.6C373.4 610.8 375.0 611.8 376.4 612.9C377.9 614.0 379.6 614.6 380.7 615.1C381.9 615.5 382.5 614.9 383.2 615.5C384.0 616.1 384.7 617.0 385.4 618.8C386.1 620.6 386.6 623.4 387.5 626.3C388.4 629.2 389.7 632.9 390.8 636.0C391.8 639.0 392.9 641.4 394.0 644.6C395.1 647.8 396.2 651.1 397.2 655.4C398.3 659.7 399.4 665.6 400.5 670.4C401.5 675.3 402.6 680.1 403.7 684.4C404.8 688.7 405.8 692.9 406.9 696.3C408.0 699.7 408.9 702.0 410.1 704.9C411.4 707.8 413.0 710.5 414.5 713.5C415.9 716.6 417.3 720.0 418.8 723.2C420.2 726.4 421.7 729.8 423.1 732.9C424.4 735.9 425.4 738.3 426.9 741.5C428.5 744.8 430.5 748.9 432.3 752.3C434.1 755.7 435.9 759.1 437.7 762.0C439.5 764.9 441.3 767.4 443.1 769.5C444.9 771.7 446.7 773.8 448.5 774.9C450.2 776.1 452.0 776.5 453.8 776.4C455.6 776.3 457.6 775.8 459.2 774.3C460.8 772.8 462.3 769.8 463.5 767.4C464.8 765.0 465.7 762.4 466.8 759.8C467.8 757.3 468.9 754.3 470.0 752.3C471.1 750.3 472.1 748.5 473.2 747.6C474.3 746.7 475.4 746.5 476.4 746.9C477.5 747.3 478.6 748.7 479.7 750.1C480.8 751.6 481.8 753.9 482.9 755.5C484.0 757.1 484.9 758.9 486.1 759.8C487.4 760.7 489.0 761.3 490.4 760.9C491.9 760.6 493.1 758.8 494.8 757.7C496.4 756.5 498.3 754.9 500.1 754.0C501.9 753.1 503.7 752.4 505.5 752.3C507.3 752.2 509.1 753.0 510.9 753.4C512.7 753.7 514.7 754.5 516.3 754.5C517.9 754.5 519.2 754.3 520.6 753.4C522.0 752.5 523.5 750.9 524.9 749.1C526.3 747.3 527.8 744.2 529.2 742.6C530.6 741.1 532.1 740.3 533.5 739.8C534.9 739.3 536.4 739.3 537.8 739.4C539.3 739.5 540.7 740.5 542.1 740.5C543.6 740.4 545.0 739.8 546.4 739.0C547.9 738.1 549.3 736.3 550.7 735.1C552.2 733.9 554.0 732.5 555.0 731.8C556.1 731.2 555.2 731.3 557.0 731.4C558.8 731.4 563.3 733.0 565.8 732.1C568.3 731.3 569.7 728.6 572.0 726.4C574.3 724.2 577.4 720.3 579.5 718.9C581.6 717.4 582.5 717.5 584.5 717.6C586.6 717.7 589.5 718.9 592.0 719.6C594.6 720.3 597.1 722.0 599.6 721.9C602.1 721.7 604.6 720.0 607.1 718.9C609.6 717.7 612.1 716.1 614.6 715.1C617.1 714.1 619.6 713.6 622.1 712.6C624.6 711.6 627.1 709.1 629.6 708.8C632.1 708.6 634.8 710.4 637.1 710.8C639.4 711.3 641.1 712.0 643.4 711.3C645.7 710.7 648.6 708.0 650.9 707.1C653.2 706.1 654.8 705.5 657.1 705.6C659.4 705.7 662.1 707.6 664.6 707.6C667.1 707.6 669.7 706.5 672.2 705.6C674.7 704.7 677.2 702.4 679.7 702.1C682.2 701.8 684.9 703.1 687.2 703.8C689.5 704.5 691.3 706.0 693.4 706.3C695.5 706.6 697.4 706.4 699.7 705.6C702.0 704.8 704.3 702.2 707.2 701.3C710.1 700.5 713.9 700.9 717.2 700.6C720.6 700.3 724.5 699.9 727.2 699.6C729.9 699.3 732.4 699.0 733.5 698.8"/>
</g>
<text x="35.0" y="15.0" font-size="19.8" font-weight="normal" fill="#363636" text-anchor="start" textLength="22.0" lengthAdjust="spacingAndGlyphs">35</text>
<text x="35.0" y="51.8" font-size="19.8" font-weight="normal" fill="#363636" text-anchor="start" textLength="22.0" lengthAdjust="spacingAndGlyphs">30</text>
<text x="35.0" y="87.9" font-size="19.8" font-weight="normal" fill="#363636" text-anchor="start" textLength="22.0" lengthAdjust="spacingAndGlyphs">25</text>
<text x="35.0" y="124.3" font-size="19.8" font-weight="normal" fill="#363636" text-anchor="start" textLength="22.0" lengthAdjust="spacingAndGlyphs">20</text>
<text x="35.0" y="160.8" font-size="19.8" font-weight="normal" fill="#363636" text-anchor="start" textLength="22.0" lengthAdjust="spacingAndGlyphs">15</text>
<text x="35.0" y="197.4" font-size="19.8" font-weight="normal" fill="#363636" text-anchor="start" textLength="22.0" lengthAdjust="spacingAndGlyphs">10</text>
<text x="46.0" y="233.9" font-size="19.8" font-weight="normal" fill="#363636" text-anchor="start" textLength="11.0" lengthAdjust="spacingAndGlyphs">5</text>
<text x="46.0" y="270.6" font-size="19.8" font-weight="normal" fill="#363636" text-anchor="start" textLength="11.0" lengthAdjust="spacingAndGlyphs">0</text>
<text x="40.0" y="307.5" font-size="19.8" font-weight="normal" fill="#363636" text-anchor="start" textLength="17.0" lengthAdjust="spacingAndGlyphs">-5</text>
<text x="71.7" y="336.3" font-size="19.8" font-weight="normal" fill="#363636" text-anchor="start" textLength="11.6" lengthAdjust="spacingAndGlyphs">0</text>
<text x="195.6" y="336.3" font-size="19.8" font-weight="normal" fill="#363636" text-anchor="start" textLength="28.4" lengthAdjust="spacingAndGlyphs">0.2</text>
<text x="327.8" y="336.3" font-size="19.8" font-weight="normal" fill="#363636" text-anchor="start" textLength="28.4" lengthAdjust="spacingAndGlyphs">0.4</text>
<text x="459.1" y="336.3" font-size="19.8" font-weight="normal" fill="#363636" text-anchor="start" textLength="28.4" lengthAdjust="spacingAndGlyphs">0.6</text>
<text x="590.5" y="336.3" font-size="19.8" font-weight="normal" fill="#363636" text-anchor="start" textLength="28.4" lengthAdjust="spacingAndGlyphs">0.8</text>
<text x="730.4" y="336.3" font-size="19.8" font-weight="normal" fill="#363636" text-anchor="start" textLength="11.6" lengthAdjust="spacingAndGlyphs">1</text>
<text x="367.5" y="371.0" font-size="19.8" font-weight="normal" fill="#363636" text-anchor="start" textLength="77.5" lengthAdjust="spacingAndGlyphs">Time (s)</text>
<g transform="translate(21.6,240.5) rotate(-90)">
<text x="0.0" y="0.0" font-size="20.8" font-weight="normal" fill="#363636" text-anchor="start" textLength="173.5" lengthAdjust="spacingAndGlyphs">Flow Rate (L/min)</text>
</g>
<g stroke-width="2.5" stroke-linecap="butt">
<line x1="128.5" y1="426.6" x2="172.8" y2="426.6" stroke="#5b9bd5"/>
<line x1="305.8" y1="426.6" x2="349" y2="426.6" stroke="#a5a5a5"/>
<line x1="471.6" y1="426.6" x2="516.8" y2="426.6" stroke="#ed7d31"/>
</g>
<text x="177.7" y="433.5" font-size="19.8" font-weight="normal" fill="#363636" text-anchor="start" textLength="99.5" lengthAdjust="spacingAndGlyphs">Early Peak</text>
<text x="354.4" y="433.5" font-size="19.8" font-weight="normal" fill="#363636" text-anchor="start" textLength="90.0" lengthAdjust="spacingAndGlyphs">Mid Peak</text>
<text x="521.3" y="433.5" font-size="19.8" font-weight="normal" fill="#363636" text-anchor="start" textLength="93.5" lengthAdjust="spacingAndGlyphs">Late Peak</text>
<text x="326.3" y="497.8" font-size="25.5" font-weight="bold" fill="#111" text-anchor="start" textLength="32.0" lengthAdjust="spacingAndGlyphs">(a)</text>
<text x="37.8" y="529.5" font-size="19.8" font-weight="normal" fill="#363636" text-anchor="start" textLength="23.8" lengthAdjust="spacingAndGlyphs">60</text>
<text x="37.8" y="577.3" font-size="19.8" font-weight="normal" fill="#363636" text-anchor="start" textLength="23.8" lengthAdjust="spacingAndGlyphs">40</text>
<text x="37.8" y="624.9" font-size="19.8" font-weight="normal" fill="#363636" text-anchor="start" textLength="23.8" lengthAdjust="spacingAndGlyphs">20</text>
<text x="49.7" y="673.0" font-size="19.8" font-weight="normal" fill="#363636" text-anchor="start" textLength="11.9" lengthAdjust="spacingAndGlyphs">0</text>
<text x="31.5" y="721.0" font-size="19.8" font-weight="normal" fill="#363636" text-anchor="start" textLength="30.1" lengthAdjust="spacingAndGlyphs">-20</text>
<text x="31.5" y="769.2" font-size="19.8" font-weight="normal" fill="#363636" text-anchor="start" textLength="30.1" lengthAdjust="spacingAndGlyphs">-40</text>
<text x="31.5" y="818.1" font-size="19.8" font-weight="normal" fill="#363636" text-anchor="start" textLength="30.1" lengthAdjust="spacingAndGlyphs">-60</text>
<text x="31.5" y="866.4" font-size="19.8" font-weight="normal" fill="#363636" text-anchor="start" textLength="30.1" lengthAdjust="spacingAndGlyphs">-80</text>
<text x="74.7" y="702.3" font-size="19.8" font-weight="normal" fill="#363636" text-anchor="start" textLength="11.6" lengthAdjust="spacingAndGlyphs">0</text>
<text x="197.3" y="702.3" font-size="19.8" font-weight="normal" fill="#363636" text-anchor="start" textLength="28.4" lengthAdjust="spacingAndGlyphs">0.2</text>
<text x="327.8" y="702.3" font-size="19.8" font-weight="normal" fill="#363636" text-anchor="start" textLength="28.4" lengthAdjust="spacingAndGlyphs">0.4</text>
<text x="458.5" y="702.3" font-size="19.8" font-weight="normal" fill="#363636" text-anchor="start" textLength="28.4" lengthAdjust="spacingAndGlyphs">0.6</text>
<text x="588.8" y="702.3" font-size="19.8" font-weight="normal" fill="#363636" text-anchor="start" textLength="28.4" lengthAdjust="spacingAndGlyphs">0.8</text>
<text x="727.6" y="702.3" font-size="19.8" font-weight="normal" fill="#363636" text-anchor="start" textLength="11.6" lengthAdjust="spacingAndGlyphs">1</text>
<text x="368.0" y="885.5" font-size="19.8" font-weight="normal" fill="#363636" text-anchor="start" textLength="78.0" lengthAdjust="spacingAndGlyphs">Time (s)</text>
<g transform="translate(19.8,888) rotate(-90)">
<text x="0.0" y="0.0" font-size="20.8" font-weight="normal" fill="#363636" text-anchor="start" textLength="357.5" lengthAdjust="spacingAndGlyphs">Average Pressure Gradients (mmHg)</text>
</g>
<g stroke-width="2.5" stroke-linecap="butt">
<line x1="125" y1="941" x2="169.5" y2="941" stroke="#5b9bd5"/>
<line x1="301.4" y1="941" x2="345.5" y2="941" stroke="#a5a5a5"/>
<line x1="468.5" y1="941" x2="513" y2="941" stroke="#ed7d31"/>
</g>
<text x="172.9" y="947.5" font-size="19.8" font-weight="normal" fill="#363636" text-anchor="start" textLength="101.0" lengthAdjust="spacingAndGlyphs">Early Peak</text>
<text x="351.1" y="947.5" font-size="19.8" font-weight="normal" fill="#363636" text-anchor="start" textLength="89.2" lengthAdjust="spacingAndGlyphs">Mid Peak</text>
<text x="518.3" y="947.5" font-size="19.8" font-weight="normal" fill="#363636" text-anchor="start" textLength="92.7" lengthAdjust="spacingAndGlyphs">Late Peak</text>
<text x="325.3" y="1011.8" font-size="25.5" font-weight="bold" fill="#111" text-anchor="start" textLength="36.5" lengthAdjust="spacingAndGlyphs">(b)</text>
</svg>
</body></html>
